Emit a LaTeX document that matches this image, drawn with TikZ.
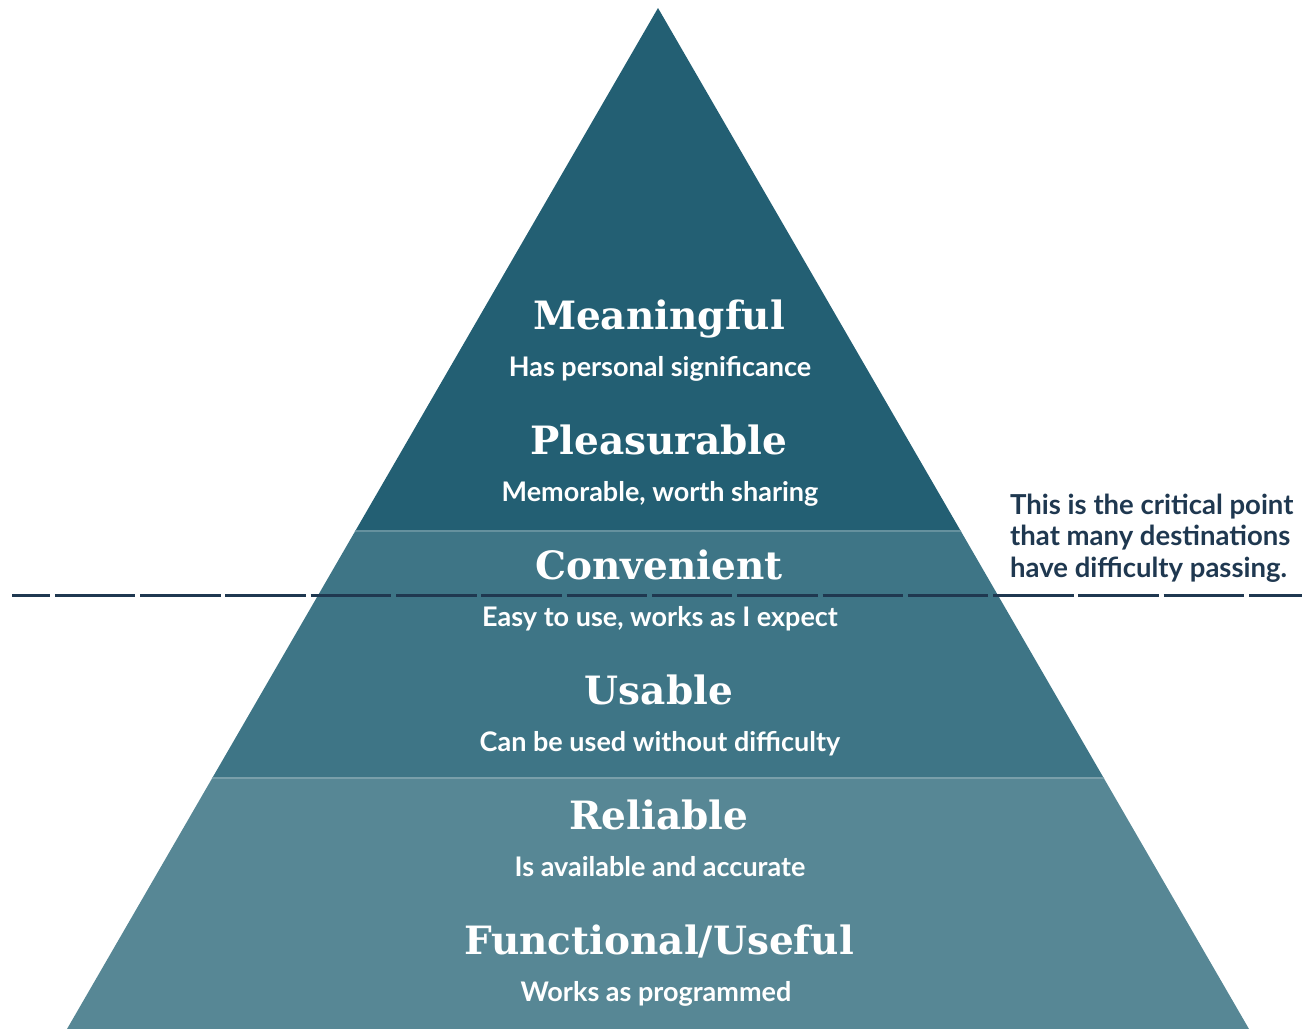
\documentclass[tikz,border=0pt]{standalone}
\usepackage{fontspec}
\setmainfont{Lato}
\newfontfamily\slabfont{DejaVu Serif}
\usetikzlibrary{positioning}

\definecolor{topband}{HTML}{235F73}
\definecolor{midband}{HTML}{3E7586}
\definecolor{lowband}{HTML}{578795}
\definecolor{notecolor}{HTML}{1F3850}

\tikzset{
  level/.style = {anchor=base, inner sep=0pt, text=white,
                  font=\slabfont\bfseries\fontsize{39}{44}\selectfont},
  levelnote/.style = {anchor=base, inner sep=0pt, text=white,
                  font=\bfseries\fontsize{27}{31}\selectfont},
  sepline/.style = {line width=2.5pt},
  passline/.style = {draw=notecolor, line width=3pt,
                  dash pattern=on 80.5pt off 4.8pt, dash phase=42.5pt}
}

\begin{document}
\begin{tikzpicture}[x=1pt, y=-1pt]
  \useasboundingbox (0,0) rectangle (1302,1029);

  \coordinate (apex) at (658,8);
  \coordinate (baseL) at (67,1029);
  \coordinate (baseR) at (1249,1029);

  \begin{scope}
    \clip (apex) -- (baseL) -- (baseR) -- cycle;
    \fill[lowband] (0,778) rectangle (1302,1029);
    \fill[midband] (0,531) rectangle (1302,778);
    \fill[topband] (0,0) rectangle (1302,531);
    \draw[sepline, draw=midband!80!white] (0,531) -- (1302,531);
    \draw[sepline, draw=lowband!80!white] (0,778) -- (1302,778);
  \end{scope}

  \coordinate (passL) at (12,595);
  \coordinate (passR) at (1302,595);
  \draw[passline] (passL) -- (passR);

  \node[level] (meaningful) at (659,329) {Meaningful};
  \node[levelnote] (meaningfulnote) at (660,376) {Has personal significance};
  \node[level] (pleasurable) at (659,454) {Pleasurable};
  \node[levelnote] (pleasurablenote) at (660,501) {Memorable, worth sharing};
  \node[level] (convenient) at (659,579) {Convenient};
  \node[levelnote] (convenientnote) at (660,626) {Easy to use, works as I expect};
  \node[level] (usable) at (659,704) {Usable};
  \node[levelnote] (usablenote) at (660,751) {Can be used without difficulty};
  \node[level] (reliable) at (659,829) {Reliable};
  \node[levelnote] (reliablenote) at (660,876) {Is available and accurate};
  \node[level] (functional) at (659,954) {Functional/Useful};
  \node[levelnote] (functionalnote) at (656,1001) {Works as programmed};

  \node[anchor=base west, inner sep=0pt, text=notecolor, align=left,
        font=\bfseries\fontsize{27.5}{31.5}\selectfont] (critical) at (1010,577)
    {This is the critical point\\that many destinations\\have difficulty passing.};
\end{tikzpicture}
\end{document}
